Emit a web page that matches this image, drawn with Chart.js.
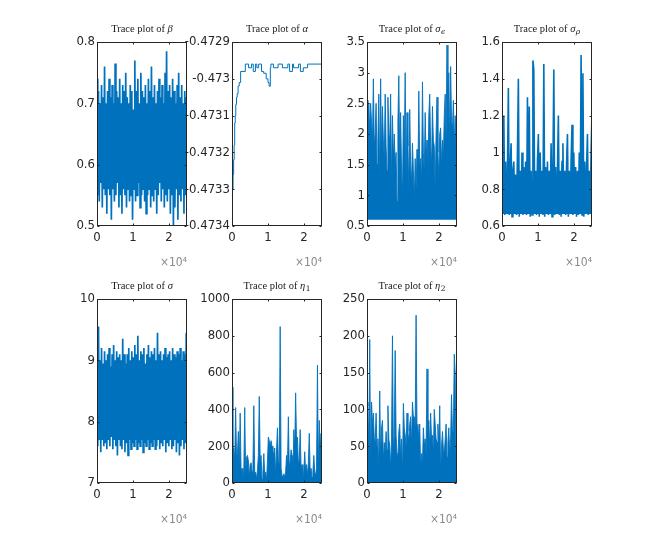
<!DOCTYPE html>
<html lang="en">
<head>
<meta charset="UTF-8" />
<title>Trace plots</title>
<script src="https://cdn.jsdelivr.net/npm/chart.js"></script>
<style>
  body { margin: 0; background: #fff; }
  #page { position: relative; width: 654px; height: 545px; overflow: hidden; }
  .panel { position: absolute; }
</style>
</head>
<body>
<div id="page"></div>
<script>
// iterations axis (shared by every panel)
const xTicks = [0, 10000, 20000];
const xMax = 25000;

// beta
const betaTicks = [0.5, 0.6, 0.7, 0.8];
const betaValues = [0.74,0.55, 0.72,0.54, 0.70,0.57, 0.73,0.53, 0.71,0.56, 0.76,0.55, 0.70,0.52, 0.72,0.56, 0.74,0.55, 0.71,0.51,
  0.73,0.56, 0.70,0.54, 0.765,0.55, 0.72,0.57, 0.71,0.53, 0.74,0.55, 0.70,0.52, 0.73,0.56, 0.72,0.55, 0.75,0.53,
  0.71,0.56, 0.70,0.54, 0.73,0.55, 0.72,0.51, 0.69,0.56, 0.77,0.54, 0.72,0.55, 0.74,0.57, 0.70,0.53, 0.75,0.55,
  0.72,0.56, 0.71,0.54, 0.73,0.52, 0.70,0.55, 0.74,0.56, 0.72,0.53, 0.76,0.55, 0.71,0.54, 0.73,0.56, 0.70,0.52,
  0.72,0.55, 0.74,0.57, 0.71,0.54, 0.73,0.56, 0.70,0.53, 0.75,0.55, 0.785,0.54, 0.72,0.56, 0.73,0.52, 0.71,0.55,
  0.74,0.50, 0.72,0.53, 0.70,0.56, 0.73,0.51, 0.75,0.55, 0.71,0.54, 0.73,0.56, 0.70,0.52, 0.72,0.55, 0.71,0.57];

// alpha (read as iteration / value pairs, chain holds value between them)
const alphaTicks = [-0.4734, -0.4733, -0.4732, -0.4731, -0.473, -0.4729];
const alphaIter = [0, 150, 300, 450, 600, 750, 900, 1050, 1250, 1450, 1700, 2000, 2400, 3700, 4600, 5400, 5900, 6500,
  6900, 7400, 8200, 8800, 9500, 10000, 10300, 10650, 10800, 11500, 12800, 14000, 15500, 16000, 16800, 17100,
  18500, 19000, 19800, 21000, 21600, 23000, 25000];
const alphaValues = [-0.47336, -0.47333, -0.47330, -0.47326, -0.47322, -0.47318, -0.47312, -0.47310, -0.47307,
  -0.47305, -0.47304, -0.47302, -0.47301, -0.47298, -0.47296, -0.47297, -0.47296, -0.47298, -0.47296, -0.47297,
  -0.47296, -0.47298, -0.472985, -0.47300, -0.47301, -0.47302, -0.47297, -0.47296, -0.47297, -0.47296, -0.47297,
  -0.47296, -0.47298, -0.47296, -0.47297, -0.47296, -0.47298, -0.47297, -0.47296, -0.47296, -0.47296];

// sigma_epsilon (chain floor near 0.6)
const sigEpsTicks = [0.5, 1, 1.5, 2, 2.5, 3, 3.5];
const sigEpsFloor = 0.6;
const sigEpsValues = [2.55, 2.1, 2.5, 2.05, 2.5, 2.2, 1.9, 2.9, 1.8, 2.0, 2.5, 1.5, 1.9, 2.65, 1.2, 2.9, 1.7, 2.45, 1.9, 1.6,
  2.65, 1.8, 1.4, 2.6, 2.0, 1.9, 2.65, 1.2, 2.3, 1.6, 2.0, 1.5, 1.7, 0.9, 2.2, 2.95, 1.6, 2.35, 1.4, 1.0,
  2.3, 1.7, 3.0, 1.3, 2.35, 1.8, 1.1, 2.4, 1.5, 1.2, 1.85, 1.4, 0.95, 1.6, 1.1, 1.75, 1.3, 2.7, 1.5, 1.6,
  1.2, 2.85, 1.7, 1.4, 2.35, 1.6, 1.9, 1.2, 2.3, 2.65, 1.8, 1.5, 2.45, 1.9, 1.8, 1.1, 2.0, 2.6, 1.7, 1.3,
  2.0, 2.1, 1.5, 1.9, 1.6, 2.3, 2.65, 1.9, 3.45, 2.0, 3.0, 1.8, 3.1, 2.2, 2.1, 2.55, 1.8, 2.3, 1.9, 2.55];

// sigma_rho (chain floor near 0.66)
const sigRhoTicks = [0.6, 0.8, 1, 1.2, 1.4, 1.6];
const sigRhoFloor = 0.665;
const sigRhoValues = [1.0, 0.67, 1.2, 0.66, 0.95, 0.68, 0.9, 1.35, 0.66, 0.92, 1.05, 0.65, 0.9, 0.95, 0.67, 0.88, 0.66, 1.0, 1.4, 0.65,
  0.9, 0.67, 1.0, 0.66, 0.92, 0.68, 0.95, 0.66, 1.3, 0.67, 1.25, 0.65, 0.9, 0.66, 1.5, 1.45, 0.67, 0.9, 0.66, 0.95,
  1.1, 0.65, 1.0, 0.67, 0.9, 0.66, 1.48, 0.65, 0.92, 0.67, 0.95, 0.66, 0.9, 0.68, 1.05, 0.65, 0.9, 1.45, 0.66, 0.92,
  0.67, 0.9, 1.2, 0.66, 0.9, 0.65, 0.95, 1.05, 0.67, 0.9, 0.66, 0.93, 1.1, 0.65, 0.9, 0.67, 0.95, 1.15, 0.66, 1.0,
  0.67, 0.92, 0.65, 0.9, 0.66, 1.0, 0.67, 1.53, 0.66, 1.43, 0.65, 0.95, 0.67, 0.92, 1.1, 0.66, 0.9, 0.67, 1.0, 1.22];

// sigma
const sigmaTicks = [7, 8, 9, 10];
const sigmaValues = [9.1,7.6, 9.55,7.7, 9.0,7.5, 9.2,7.7, 8.95,7.6, 9.15,7.65, 9.0,7.55, 9.1,7.7, 9.2,7.6, 8.9,7.75,
  9.1,7.55, 9.25,7.7, 9.0,7.6, 9.15,7.45, 9.05,7.7, 9.1,7.6, 9.0,7.55, 9.35,7.7, 9.1,7.5, 8.95,7.65,
  9.1,7.45, 9.2,7.7, 9.0,7.55, 9.15,7.65, 9.05,7.6, 9.25,7.7, 9.1,7.55, 9.4,7.65, 9.0,7.6, 9.15,7.7,
  9.1,7.5, 9.2,7.65, 8.95,7.6, 9.1,7.7, 9.25,7.55, 9.05,7.65, 9.15,7.6, 9.1,7.7, 9.2,7.55, 9.0,7.6,
  9.45,7.7, 9.1,7.55, 9.15,7.65, 9.0,7.6, 9.1,7.7, 9.2,7.5, 9.05,7.65, 9.1,7.6, 9.15,7.7, 9.0,7.55,
  9.2,7.6, 9.1,7.7, 9.05,7.5, 9.15,7.65, 9.1,7.45, 9.2,7.6, 9.0,7.7, 9.15,7.55, 9.1,7.65, 9.45,7.6];

// eta_1 (chain floor at 0)
const eta1Ticks = [0, 200, 400, 600, 800, 1000];
const eta1Values = [520, 150, 190, 120, 410, 140, 160, 280, 90, 380, 60, 80, 20, 60, 410, 50, 140, 150, 120, 30,
  100, 110, 60, 80, 420, 50, 60, 20, 70, 150, 470, 120, 150, 20, 50, 160, 40, 60, 10, 120,
  250, 230, 200, 230, 200, 180, 150, 190, 40, 180, 300, 120, 100, 850, 80, 40, 20, 50, 30, 60,
  150, 100, 360, 80, 120, 180, 150, 30, 290, 180, 490, 230, 250, 100, 130, 290, 80, 100, 20, 60,
  170, 60, 100, 40, 110, 270, 60, 80, 30, 60, 150, 60, 40, 80, 640, 60, 340, 180, 270, 20];

// eta_2 (chain floor at 0)
const eta2Ticks = [0, 50, 100, 150, 200, 250];
const eta2Values = [110, 105, 45, 195, 15, 110, 80, 95, 60, 55, 95, 50, 60, 18, 125, 35, 75, 85, 30, 55,
  40, 70, 45, 105, 60, 50, 20, 60, 200, 45, 65, 180, 65, 40, 30, 70, 80, 35, 60, 10,
  108, 75, 65, 50, 95, 70, 55, 80, 90, 50, 110, 90, 90, 75, 228, 75, 80, 60, 80, 20,
  40, 25, 75, 50, 60, 40, 155, 60, 85, 45, 95, 60, 65, 40, 100, 80, 60, 55, 80, 50,
  105, 15, 50, 70, 45, 40, 60, 80, 35, 55, 75, 40, 60, 120, 70, 70, 175, 150, 25, 45];

const lineBlue = "#0072BD";
const tickFont = { family: "'Liberation Sans Narrow', 'DejaVu Sans Condensed', 'Liberation Sans', sans-serif", size: 13 };

function evenTrace(values) {
    return values.map((v, i) => ({ x: i * xMax / (values.length - 1), y: v }));
}

function pairTrace(iters, values) {
    return iters.map((x, i) => ({ x: x, y: values[i] }));
}

function fmt(v) {
    return String(parseFloat(v.toFixed(4)));
}

// box, inward ticks and LaTeX-like title
const tracePlugin = {
    id: "traceBox",
    afterDraw(chart, args, opts) {
        const { ctx, chartArea: a, scales } = chart;
        const l = Math.round(a.left) + 0.5, r = Math.round(a.right) - 0.5;
        const t = Math.round(a.top) + 0.5, b = Math.round(a.bottom) - 0.5;
        ctx.save();
        ctx.strokeStyle = "#262626";
        ctx.lineWidth = 1;
        ctx.strokeRect(l, t, r - l, b - t);
        ctx.beginPath();
        scales.x.ticks.forEach(tk => {
            const px = Math.round(scales.x.getPixelForValue(tk.value)) + 0.5;
            ctx.moveTo(px, b); ctx.lineTo(px, b - 2);
            ctx.moveTo(px, t); ctx.lineTo(px, t + 2);
        });
        scales.y.ticks.forEach(tk => {
            const py = Math.round(scales.y.getPixelForValue(tk.value)) + 0.5;
            ctx.moveTo(l, py); ctx.lineTo(l + 2, py);
            ctx.moveTo(r, py); ctx.lineTo(r - 2, py);
        });
        ctx.stroke();

        // title
        const base = "Trace plot of ";
        const serif = "'Liberation Serif', 'DejaVu Serif', serif";
        const mainFont = "10.5px " + serif;
        const symFont = "italic 10.5px " + serif;
        const subFont = (/[0-9]/.test(opts.sub) ? "" : "italic ") + "7.5px 'DejaVu Serif', 'Liberation Serif', serif";
        ctx.fillStyle = "#1a1a1a";
        ctx.textBaseline = "alphabetic";
        ctx.textAlign = "left";
        ctx.font = mainFont; const w1 = ctx.measureText(base).width;
        ctx.font = symFont; const w2 = ctx.measureText(opts.symbol).width;
        ctx.font = subFont; const w3 = opts.sub ? ctx.measureText(opts.sub).width + 0.5 : 0;
        let x = (a.left + a.right) / 2 - (w1 + w2 + w3) / 2;
        const y = a.top - 10.5;
        ctx.font = mainFont; ctx.fillText(base, x, y); x += w1;
        ctx.font = symFont; ctx.fillText(opts.symbol, x, y); x += w2;
        if (opts.sub) { ctx.font = subFont; ctx.fillText(opts.sub, x + 0.5, y + 2.5); }
        ctx.restore();
    }
};

// dense bands get thicker strokes, chains sitting on a floor get filled down to it
const panels = [
    { symbol: "β", sub: "", data: evenTrace(betaValues), yTicks: betaTicks, left: 97, top: 42, width: 1.7 },
    { symbol: "α", sub: "", data: pairTrace(alphaIter, alphaValues), yTicks: alphaTicks, left: 232, top: 42, width: 1, stepped: "after" },
    { symbol: "σ", sub: "ϵ", data: evenTrace(sigEpsValues), yTicks: sigEpsTicks, left: 367, top: 42, width: 0.9, floor: sigEpsFloor },
    { symbol: "σ", sub: "ρ", data: evenTrace(sigRhoValues), yTicks: sigRhoTicks, left: 502, top: 42, width: 1.6, floor: sigRhoFloor },
    { symbol: "σ", sub: "", data: evenTrace(sigmaValues), yTicks: sigmaTicks, left: 97, top: 299, width: 1.7 },
    { symbol: "η", sub: "1", data: evenTrace(eta1Values), yTicks: eta1Ticks, left: 232, top: 299, width: 0.9, floor: 0 },
    { symbol: "η", sub: "2", data: evenTrace(eta2Values), yTicks: eta2Ticks, left: 367, top: 299, width: 0.9, floor: 0 }
];

const plotW = 90, plotH = 184;
const padL = 60, padT = 30, padR = 12, padB = 48;
const page = document.getElementById("page");

panels.forEach(p => {
    const box = document.createElement("div");
    box.className = "panel";
    box.style.left = (p.left - padL) + "px";
    box.style.top = (p.top - padT) + "px";
    box.style.width = (padL + plotW + padR) + "px";
    box.style.height = (padT + plotH + padB) + "px";
    const canvas = document.createElement("canvas");
    box.appendChild(canvas);
    page.appendChild(box);

    new Chart(canvas.getContext("2d"), {
        type: "line",
        data: {
            datasets: [{
                data: p.data,
                borderColor: lineBlue,
                backgroundColor: lineBlue,
                borderWidth: p.width,
                borderJoinStyle: "miter",
                pointRadius: 0,
                tension: 0,
                stepped: p.stepped || false,
                fill: p.floor === undefined ? false : { value: p.floor }
            }]
        },
        options: {
            responsive: true,
            maintainAspectRatio: false,
            animation: false,
            events: [],
            layout: { padding: { top: padT, right: padR, left: 0, bottom: 0 } },
            plugins: {
                legend: { display: false },
                tooltip: { enabled: false },
                traceBox: { symbol: p.symbol, sub: p.sub }
            },
            scales: {
                x: {
                    type: "linear",
                    min: 0,
                    max: xMax,
                    afterBuildTicks: s => { s.ticks = xTicks.map(v => ({ value: v })); },
                    afterFit: s => { s.height = padB; },
                    grid: { display: false, drawTicks: false },
                    border: { display: false },
                    ticks: { color: "#262626", font: tickFont, padding: 4, maxRotation: 0, callback: v => fmt(v / 10000) },
                    title: { display: true, text: "×10⁴", align: "end", color: "#8a8a8a", font: { family: tickFont.family, size: 12 }, padding: { top: 0, bottom: 4 } }
                },
                y: {
                    min: p.yTicks[0],
                    max: p.yTicks[p.yTicks.length - 1],
                    afterBuildTicks: s => { s.ticks = p.yTicks.map(v => ({ value: v })); },
                    afterFit: s => { s.width = padL; },
                    grid: { display: false, drawTicks: false },
                    border: { display: false },
                    ticks: { color: "#262626", font: tickFont, padding: 2, callback: v => fmt(v) }
                }
            }
        },
        plugins: [tracePlugin]
    });
});
</script>
</body>
</html>
